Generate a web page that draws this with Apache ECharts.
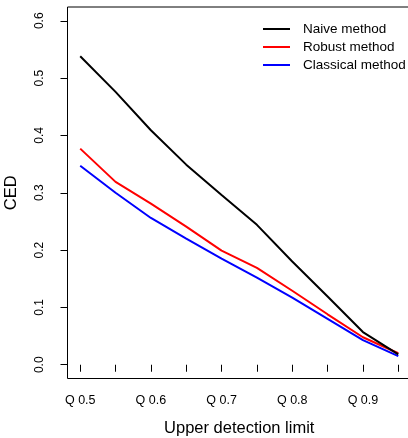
<!DOCTYPE html>
<html>
<head>
<meta charset="utf-8">
<script src="https://cdn.jsdelivr.net/npm/echarts@6/dist/echarts.min.js"></script>
<style>
html,body{margin:0;padding:0;background:#fff;}
#chart{width:408px;height:438px;}
</style>
</head>
<body>
<div id="chart"></div>
<script>
var quantiles = [0.5, 0.55, 0.6, 0.65, 0.7, 0.75, 0.8, 0.85, 0.9, 0.95];
var naive = [0.538, 0.476, 0.409, 0.349, 0.296, 0.244, 0.180, 0.119, 0.057, 0.018];
var robust = [0.377, 0.319, 0.281, 0.241, 0.199, 0.169, 0.129, 0.088, 0.048, 0.020];
var classical = [0.347, 0.300, 0.256, 0.220, 0.185, 0.152, 0.117, 0.080, 0.043, 0.015];
var xTickLabelValues = [0.5, 0.6, 0.7, 0.8, 0.9];
var xTickLabels = ["Q 0.5", "Q 0.6", "Q 0.7", "Q 0.8", "Q 0.9"];
var yTickValues = [0, 0.1, 0.2, 0.3, 0.4, 0.5, 0.6];
var yTickLabels = ["0.0", "0.1", "0.2", "0.3", "0.4", "0.5", "0.6"];
var seriesNames = ["Naive method", "Robust method", "Classical method"];
var seriesColors = ["#000000", "#ff0000", "#0000ff"];

function pairs(vals) {
  return quantiles.map(function (q, i) { return [q, vals[i]]; });
}
function labelFor(values, labels, v) {
  for (var i = 0; i < values.length; i++) {
    if (Math.abs(values[i] - v) < 1e-9) return labels[i];
  }
  return '';
}

var font = '"Liberation Sans", Arial, Helvetica, sans-serif';
var chart = echarts.init(document.getElementById('chart'), null, {renderer: 'canvas'});
var allData = [naive, robust, classical];
chart.setOption({
  animation: false,
  backgroundColor: '#ffffff',
  textStyle: {fontFamily: font, color: '#000'},
  grid: {
    left: 67.5, top: 7, width: 343.5, height: 371.5,
    show: true, borderColor: '#000', borderWidth: 1, backgroundColor: 'transparent',
    containLabel: false, outerBoundsMode: 'none'
  },
  legend: {
    orient: 'vertical',
    left: 258, top: 15,
    itemWidth: 27, itemHeight: 2, itemGap: 0,
    icon: 'rect',
    textStyle: {fontFamily: font, fontSize: 13.5, color: '#000', lineHeight: 18, padding: [0, 0, 0, 8]},
    data: seriesNames
  },
  xAxis: {
    type: 'value', min: 0.482, max: 0.968,
    name: 'Upper detection limit', nameLocation: 'middle', nameGap: 41,
    nameTextStyle: {fontFamily: font, fontSize: 16.5, color: '#000'},
    splitLine: {show: false},
    axisLine: {show: false},
    axisTick: {show: true, inside: false, length: 7, customValues: quantiles, lineStyle: {color: '#000', width: 1}},
    axisLabel: {
      show: true, margin: 16, fontSize: 12.5, color: '#000', fontFamily: font,
      customValues: xTickLabelValues,
      formatter: function (v) { return labelFor(xTickLabelValues, xTickLabels, v); }
    }
  },
  yAxis: {
    type: 'value', min: -0.024, max: 0.624,
    name: 'CED', nameLocation: 'middle', nameGap: 48, nameRotate: 90,
    nameTextStyle: {fontFamily: font, fontSize: 16.5, color: '#000'},
    splitLine: {show: false},
    axisLine: {show: false},
    axisTick: {show: true, inside: false, length: 7, customValues: yTickValues, lineStyle: {color: '#000', width: 1}},
    axisLabel: {
      show: true, margin: 22, fontSize: 12, color: '#000', fontFamily: font, rotate: 90,
      customValues: yTickValues,
      formatter: function (v) { return labelFor(yTickValues, yTickLabels, v); }
    }
  },
  series: seriesNames.map(function (name, i) {
    return {
      name: name, type: 'line', data: pairs(allData[i]),
      showSymbol: false, symbol: 'none',
      color: seriesColors[i],
      lineStyle: {color: seriesColors[i], width: 2},
      itemStyle: {color: seriesColors[i]},
      z: 3 - i
    };
  })
});
</script>
</body>
</html>
